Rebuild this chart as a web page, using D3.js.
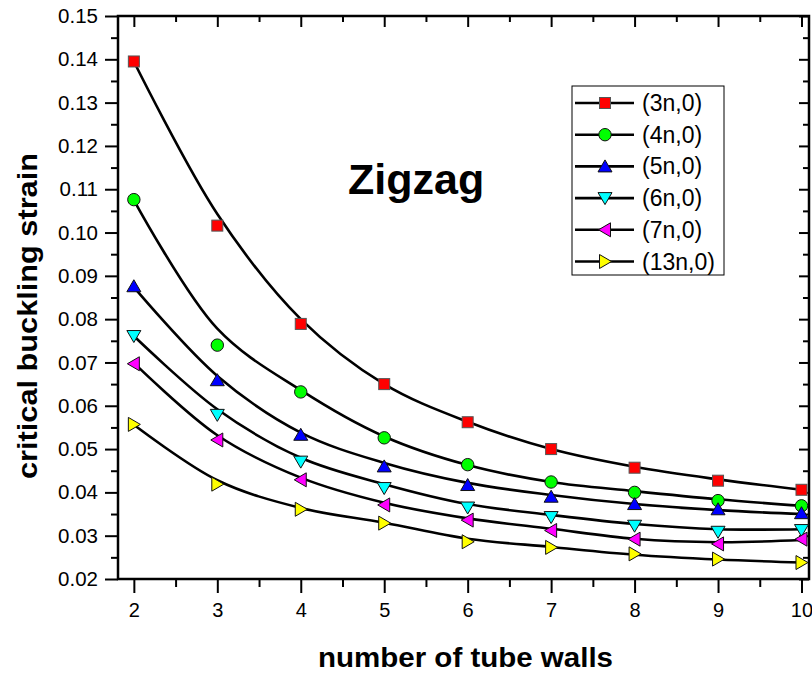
<!DOCTYPE html>
<html><head><meta charset="utf-8">
<script src="https://cdn.jsdelivr.net/npm/d3@7"></script>
<style>
html,body{margin:0;padding:0;background:#fff;}
text{font-family:"Liberation Sans",Arial,sans-serif;fill:#000;}
</style></head>
<body><svg id="c" width="812" height="674"></svg>
<script>
// ---- data ----
const wallCounts = [2, 3, 4, 5, 6, 7, 8, 9, 10];
const seriesNames = ["(3n,0)", "(4n,0)", "(5n,0)", "(6n,0)", "(7n,0)", "(13n,0)"];
const strain3n  = [0.1395, 0.1016, 0.0789, 0.0650, 0.0562, 0.0500, 0.0457, 0.0427, 0.0406];
const strain4n  = [0.1076, 0.0740, 0.0632, 0.0526, 0.0464, 0.0424, 0.0400, 0.0381, 0.0369];
const strain5n  = [0.0876, 0.0659, 0.0533, 0.0460, 0.0417, 0.0390, 0.0373, 0.0361, 0.0352];
const strain6n  = [0.0761, 0.0579, 0.0471, 0.0410, 0.0365, 0.0343, 0.0323, 0.0309, 0.0313];
const strain7n  = [0.0697, 0.0521, 0.0429, 0.0371, 0.0336, 0.0312, 0.0292, 0.0281, 0.0292];
const strain13n = [0.0557, 0.0419, 0.0361, 0.0329, 0.0286, 0.0273, 0.0258, 0.0246, 0.0238];
// fitted curves
const fit3n  = [0.1395, 0.1043, 0.0800, 0.0650, 0.0563, 0.0500, 0.0459, 0.0430, 0.0406];
const fit4n  = [0.1075, 0.0778, 0.0636, 0.0529, 0.0463, 0.0424, 0.0403, 0.0384, 0.0369];
const fit5n  = [0.0874, 0.0669, 0.0538, 0.0468, 0.0422, 0.0394, 0.0373, 0.0359, 0.0350];
const fit6n  = [0.0761, 0.0592, 0.0480, 0.0419, 0.0373, 0.0348, 0.0327, 0.0315, 0.0315];
const fit7n  = [0.0699, 0.0532, 0.0434, 0.0376, 0.0340, 0.0316, 0.0293, 0.0285, 0.0290];
const fit13n = [0.0556, 0.0428, 0.0364, 0.0330, 0.0293, 0.0274, 0.0256, 0.0245, 0.0238];
const xTickLabels = ["2", "3", "4", "5", "6", "7", "8", "9", "10"];
const yTickLabels = ["0.02","0.03","0.04","0.05","0.06","0.07","0.08","0.09","0.10","0.11","0.12","0.13","0.14","0.15"];

const pointsAll = [strain3n, strain4n, strain5n, strain6n, strain7n, strain13n];
const fitsAll = [fit3n, fit4n, fit5n, fit6n, fit7n, fit13n];
const colors = ["#ff0000", "#00ff00", "#0000ff", "#00ffff", "#ff00ff", "#ffff00"];
const shapes = ["square", "circle", "up", "down", "left", "right"];

// ---- layout ----
const L = 118, R = 809, T = 16, B = 579;
const svg = d3.select("#c");
const x = d3.scaleLinear().domain([1.81, 10.09]).range([L, R]);
const y = d3.scaleLinear().domain([0.02, 0.15]).range([B, T]);

const major = wallCounts;
const minorX = d3.range(2.5, 10, 1);
const yMajor = yTickLabels.map(Number);
const yMinor = d3.range(0.025, 0.15, 0.01);

function ax(g, axis) { g.call(axis); g.select(".domain").remove(); g.selectAll("line").attr("stroke", "#000").attr("stroke-width", 2); }

// bottom
svg.append("g").attr("transform", `translate(0,${B})`)
  .call(g => ax(g, d3.axisBottom(x).tickValues(major).tickSize(14).tickPadding(10).tickFormat((d, i) => xTickLabels[i])))
  .selectAll("text").attr("font-size", 20);
svg.append("g").attr("transform", `translate(0,${B})`)
  .call(g => ax(g, d3.axisBottom(x).tickValues(minorX).tickSize(8).tickFormat("")));
// top
svg.append("g").attr("transform", `translate(0,${T})`)
  .call(g => ax(g, d3.axisBottom(x).tickValues(major).tickSize(11).tickFormat("")));
svg.append("g").attr("transform", `translate(0,${T})`)
  .call(g => ax(g, d3.axisBottom(x).tickValues(minorX).tickSize(6).tickFormat("")));
// left
svg.append("g").attr("transform", `translate(${L},0)`)
  .call(g => ax(g, d3.axisLeft(y).tickValues(yMajor).tickSize(13).tickPadding(7).tickFormat((d, i) => yTickLabels[i])))
  .selectAll("text").attr("font-size", 20.5);
svg.append("g").attr("transform", `translate(${L},0)`)
  .call(g => ax(g, d3.axisLeft(y).tickValues(yMinor).tickSize(7).tickFormat("")));
// right
svg.append("g").attr("transform", `translate(${R},0)`)
  .call(g => ax(g, d3.axisLeft(y).tickValues(yMajor).tickSize(10).tickFormat("")));
svg.append("g").attr("transform", `translate(${R},0)`)
  .call(g => ax(g, d3.axisLeft(y).tickValues(yMinor).tickSize(6).tickFormat("")));

// frame
svg.append("rect").attr("x", L).attr("y", T).attr("width", R - L).attr("height", B - T)
  .attr("fill", "none").attr("stroke", "#000").attr("stroke-width", 2.5);

// curves
const line = d3.line().x((d, i) => x(wallCounts[i])).y(d => y(d)).curve(d3.curveCatmullRom.alpha(0.5));
fitsAll.forEach(f => {
  svg.append("path").attr("d", line(f)).attr("fill", "none").attr("stroke", "#000").attr("stroke-width", 2.6);
});

// markers
function marker(g, shape, color) {
  let p;
  if (shape === "square") p = g.append("rect").attr("x", -5.5).attr("y", -5.5).attr("width", 11).attr("height", 11);
  else if (shape === "circle") p = g.append("circle").attr("r", 6.2);
  else {
    const tri = { up: "M0,-6.5L7,5.5L-7,5.5Z", down: "M0,6.5L7,-5.5L-7,-5.5Z", left: "M-6.5,0L5.5,-7L5.5,7Z", right: "M6.5,0L-5.5,-7L-5.5,7Z" };
    p = g.append("path").attr("d", tri[shape]);
  }
  p.attr("fill", color).attr("stroke", shape === "square" ? "#555" : "#111").attr("stroke-width", 1);
}
pointsAll.forEach((vals, si) => {
  vals.forEach((v, i) => {
    const g = svg.append("g").attr("transform", `translate(${x(wallCounts[i])},${y(v)})`);
    marker(g, shapes[si], colors[si]);
  });
});

// legend
const leg = svg.append("g");
leg.append("rect").attr("x", 572).attr("y", 86).attr("width", 152).attr("height", 189)
  .attr("fill", "#fff").attr("stroke", "#000").attr("stroke-width", 1);
seriesNames.forEach((name, i) => {
  const cy = 103 + i * 31.7;
  leg.append("line").attr("x1", 575).attr("x2", 634).attr("y1", cy).attr("y2", cy).attr("stroke", "#000").attr("stroke-width", 2.6);
  const g = leg.append("g").attr("transform", `translate(605,${cy})`);
  marker(g, shapes[i], colors[i]);
  leg.append("text").attr("x", 642).attr("y", cy + 8).attr("font-size", 23).text(name);
});

// titles
svg.append("text").attr("x", 348).attr("y", 194).attr("font-size", 43).attr("font-weight", "bold").text("Zigzag");
svg.append("text").attr("x", 465.5).attr("y", 667).attr("text-anchor", "middle")
  .attr("font-size", 27).attr("font-weight", "bold")
  .attr("textLength", 295).attr("lengthAdjust", "spacingAndGlyphs").text("number of tube walls");
svg.append("text").attr("transform", `translate(37,316) rotate(-90)`).attr("text-anchor", "middle")
  .attr("font-size", 27).attr("font-weight", "bold")
  .attr("textLength", 326).attr("lengthAdjust", "spacingAndGlyphs").text("critical buckling strain");
</script></body></html>
